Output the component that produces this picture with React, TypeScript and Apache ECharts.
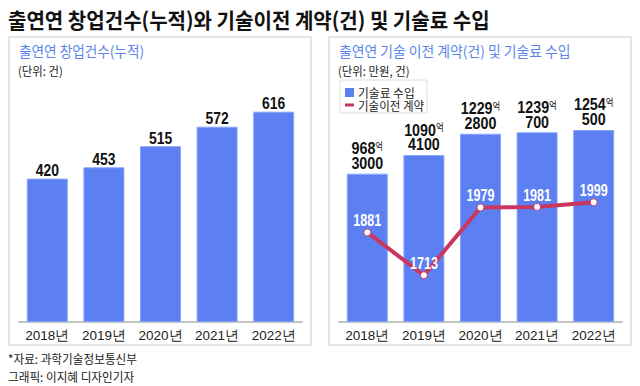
import React, { useEffect, useRef } from "react";
import * as echarts from "echarts";

const years = ["2018년", "2019년", "2020년", "2021년", "2022년"];
const startups = [420, 453, 515, 572, 616];
const royaltyEok = [968, 1090, 1229, 1239, 1254];
const royaltyMan = [3000, 4100, 2800, 700, 500];
const contracts = [1881, 1713, 1979, 1981, 1999];

const NUM = "'Liberation Sans', Arial, sans-serif";
const KR = "'Noto Sans CJK KR', 'Noto Sans', sans-serif";
const BAR = "#5c80f1";
const BAR_EDGE = "#8aa5f6";
const LINE = "#c9375f";
const BLUE_TXT = "#5a86ea";

export default function App() {
  const ref = useRef<HTMLDivElement>(null);
  useEffect(() => {
    const chart = echarts.init(ref.current!, undefined, { renderer: "svg" });
    const royalty = royaltyEok.map((e, i) => e + royaltyMan[i] / 10000);
    const txt = (x: number, y: number, text: string, size: number, color: string, weight: any = "normal", sx = 0.95) => ({
      type: "text",
      x,
      y,
      scaleX: sx,
      style: { text, fontSize: size, fontFamily: KR, fontWeight: weight, fill: color, verticalAlign: "middle" },
      z: 10,
    });
    const labels = (xi: number, yi: number, values: number[], make: (i: number) => any, dy: number, sx: number) => ({
      type: "custom",
      xAxisIndex: xi,
      yAxisIndex: yi,
      z: 20,
      silent: true,
      data: values.map((v, i) => [i, v]),
      renderItem: (params: any, api: any) => {
        const p = api.coord([api.value(0), api.value(1)]);
        return {
          type: "text",
          x: p[0],
          y: p[1] - dy,
          scaleX: sx,
          style: { align: "center", verticalAlign: "bottom", ...make(params.dataIndex) },
        };
      },
    });
    chart.setOption({
      animation: false,
      backgroundColor: "#fff",
      graphic: [
        { type: "rect", shape: { x: 9, y: 37, width: 302, height: 308 }, style: { fill: "#fff", stroke: "#e6e6e6", lineWidth: 2 }, z: 0 },
        { type: "rect", shape: { x: 329, y: 37, width: 302, height: 308 }, style: { fill: "#fff", stroke: "#e6e6e6", lineWidth: 2 }, z: 0 },
        txt(8, 19, "출연연 창업건수(누적)와 기술이전 계약(건) 및 기술료 수입", 21, "#111", "bold", 0.955),
        txt(19, 51, "출연연 창업건수(누적)", 14.5, BLUE_TXT, "normal", 0.94),
        txt(18, 70, "(단위: 건)", 12, "#222", "normal", 0.95),
        txt(339, 51, "출연연 기술 이전 계약(건) 및 기술료 수입", 14.5, BLUE_TXT, "normal", 0.955),
        txt(338, 70, "(단위: 만원, 건)", 12, "#222", "normal", 0.95),
        { type: "rect", shape: { x: 340, y: 80, width: 87, height: 33 }, style: { fill: "#fff", stroke: "#dddddd", lineWidth: 1 }, z: 5 },
        { type: "rect", shape: { x: 345, y: 88, width: 9, height: 9 }, style: { fill: BAR }, z: 10 },
        txt(358, 92.5, "기술료 수입", 12, "#222", "normal", 0.98),
        { type: "rect", shape: { x: 345, y: 103.5, width: 9, height: 3 }, style: { fill: LINE }, z: 10 },
        txt(358, 105, "기술이전 계약", 12, "#222", "normal", 0.96),
        txt(8, 358, "*자료: 과학기술정보통신부", 12, "#222", "normal", 0.97),
        txt(8, 376, "그래픽: 이지혜 디자인기자", 12, "#222", "normal", 0.97),
      ],
      grid: [
        { left: 19, width: 283, top: 83, height: 239 },
        { left: 339, width: 283, top: 77, height: 245 },
      ],
      xAxis: [0, 1].map((g) => ({
        type: "category",
        gridIndex: g,
        data: years,
        axisLine: { lineStyle: { color: "#c4c4c4", width: 2 } },
        axisTick: { show: false },
        axisLabel: { interval: 0, margin: 6, fontSize: 13.5, color: "#222", fontFamily: NUM },
      })),
      yAxis: [
        { type: "value", gridIndex: 0, min: 0, max: 700, show: false },
        { type: "value", gridIndex: 1, min: 0, max: 1600, show: false },
        { type: "value", gridIndex: 1, min: 1530, max: 2490, show: false },
      ],
      series: [
        {
          type: "bar",
          xAxisIndex: 0,
          yAxisIndex: 0,
          data: startups,
          barWidth: 41,
          itemStyle: { color: BAR, borderColor: BAR_EDGE, borderWidth: 1 },
        },
        {
          type: "bar",
          name: "기술료 수입",
          xAxisIndex: 1,
          yAxisIndex: 1,
          data: royalty,
          barWidth: 41,
          itemStyle: { color: BAR, borderColor: BAR_EDGE, borderWidth: 1 },
        },
        {
          type: "line",
          name: "기술이전 계약",
          xAxisIndex: 1,
          yAxisIndex: 2,
          data: contracts,
          z: 5,
          lineStyle: { color: LINE, width: 4 },
          itemStyle: { color: "#fff", borderColor: LINE, borderWidth: 1 },
          symbol: "circle",
          symbolSize: 7,
        },
        labels(0, 0, startups, (i) => ({
          text: String(startups[i]),
          fontSize: 17,
          fontWeight: "bold",
          fontFamily: NUM,
          fill: "#111",
        }), 0, 0.82),
        labels(1, 1, royalty, (i) => ({
          text: `{a|${royaltyEok[i]}}{b|억}\n{a|${royaltyMan[i]}}`,
          rich: {
            a: { fontSize: 17, lineHeight: 15, fontWeight: "bold", fontFamily: NUM, fill: "#111" },
            b: { fontSize: 10, lineHeight: 15, fontFamily: KR, fill: "#111", verticalAlign: "top", padding: [0, 0, 4, 0] },
          },
        }), 3, 0.84),
        labels(1, 2, contracts, (i) => ({
          text: String(contracts[i]),
          fontSize: 17,
          fontWeight: "bold",
          fontFamily: NUM,
          fill: "#fff",
        }), 4, 0.74),
      ],
    });
    return () => chart.dispose();
  }, []);
  return <div ref={ref} style={{ width: 640, height: 386, position: "absolute", left: 0, top: 0 }} />;
}
